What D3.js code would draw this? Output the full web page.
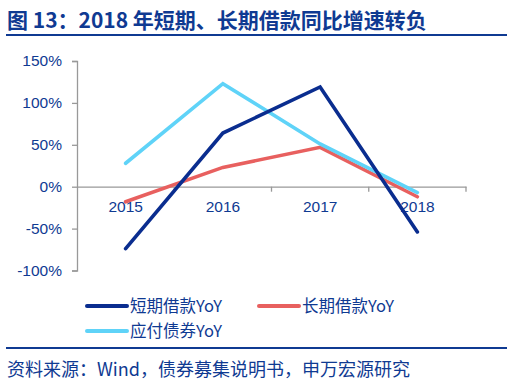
<!DOCTYPE html>
<html>
<head>
<meta charset="utf-8">
<script src="https://cdn.jsdelivr.net/npm/d3@7"></script>
<style>
  body { margin: 0; background: #fff; }
  svg text { font-family: "Liberation Sans", Arial, "Noto Sans CJK SC", sans-serif; }
</style>
</head>
<body>
<div id="chart"></div>
<script>
// categories and series (YoY, %)
var years = ["2015", "2016", "2017", "2018"];
var shortLoan = [-74, 64, 119, -54];
var longLoan = [-18, 23, 47, -12];
var payableBond = [28, 123, 51, -7];
var yTicks = [-100, -50, 0, 50, 100, 150];

var seriesNames = ["短期借款YoY", "长期借款YoY", "应付债券YoY"];
var seriesColors = ["#0a2d8f", "#e8605f", "#5fd3f8"];
var textColor = "#0f3a92";

var width = 518, height = 391;

var svg = d3.select("#chart").append("svg")
    .attr("width", width)
    .attr("height", height);

// title
svg.append("text")
    .attr("x", 7)
    .attr("y", 28)
    .style("font-family", "'Noto Sans CJK SC', sans-serif")
    .style("font-size", "21px")
    .style("font-weight", "bold")
    .style("fill", textColor)
    .text("图 13：2018 年短期、长期借款同比增速转负");

svg.append("rect")
    .attr("x", 6).attr("y", 34)
    .attr("width", 501).attr("height", 2)
    .style("fill", "#0f3a92");

// scales
var x = d3.scaleBand()
    .domain(years)
    .range([77, 466]);

var y = d3.scaleLinear()
    .domain([-100, 150])
    .range([270.5, 61]);

// y axis
var yAxis = d3.axisLeft(y)
    .tickValues(yTicks)
    .tickSize(5)
    .tickFormat(function(d) { return d + "%"; });

var gy = svg.append("g")
    .attr("transform", "translate(77,0)")
    .call(yAxis);
gy.select(".domain").style("stroke", "#999").style("stroke-width", 1.3);
gy.selectAll(".tick line").style("stroke", "#999").style("stroke-width", 1.3);
gy.selectAll(".tick text")
    .attr("x", -15)
    .style("font-size", "15.5px")
    .style("fill", textColor);

// x axis at 0
var xAxis = d3.axisBottom(x).tickSize(0).tickSizeOuter(0);
var gx = svg.append("g")
    .attr("transform", "translate(0," + y(0) + ")")
    .call(xAxis);
gx.select(".domain").style("stroke", "#999").style("stroke-width", 1.3);
gx.selectAll(".tick text")
    .attr("y", 14)
    .attr("dy", "0.71em")
    .style("font-size", "15.5px")
    .style("fill", textColor);

// boundary ticks between categories
var bounds = years.slice(1).map(function(d) { return x(d); }).concat([x.range()[1]]);
svg.selectAll(".bound")
    .data(bounds)
    .enter().append("line")
    .attr("class", "bound")
    .attr("x1", function(d) { return d; })
    .attr("x2", function(d) { return d; })
    .attr("y1", y(0))
    .attr("y2", y(0) + 5)
    .style("stroke", "#999")
    .style("stroke-width", 1.3);

// lines
var line = d3.line()
    .x(function(d, i) { return x(years[i]) + x.bandwidth() / 2; })
    .y(function(d) { return y(d); });

var allSeries = [longLoan, payableBond, shortLoan];
var order = [1, 2, 0];
allSeries.forEach(function(s, k) {
    svg.append("path")
        .datum(s)
        .attr("d", line)
        .style("fill", "none")
        .style("stroke", seriesColors[order[k]])
        .style("stroke-width", 3.6)
        .style("stroke-linecap", "round")
        .style("stroke-linejoin", "miter");
});

// legend
var legendPos = [[87, 306], [259, 306], [87, 331]];
seriesNames.forEach(function(name, i) {
    var p = legendPos[i];
    svg.append("line")
        .attr("x1", p[0]).attr("x2", p[0] + 40)
        .attr("y1", p[1]).attr("y2", p[1])
        .style("stroke", seriesColors[i])
        .style("stroke-width", 4)
        .style("stroke-linecap", "round");
    svg.append("text")
        .attr("x", p[0] + 43)
        .attr("y", p[1] + 6)
        .style("font-family", "'Noto Sans CJK SC', sans-serif")
        .style("font-size", "16.5px")
        .style("fill", textColor)
        .text(name);
});

// footer
svg.append("rect")
    .attr("x", 6).attr("y", 347)
    .attr("width", 501).attr("height", 2)
    .style("fill", "#0f3a92");

svg.append("text")
    .attr("x", 7)
    .attr("y", 376)
    .style("font-family", "'Noto Sans CJK SC', sans-serif")
    .style("font-size", "18px")
    .style("fill", textColor)
    .text("资料来源：Wind，债券募集说明书，申万宏源研究");
</script>
</body>
</html>
